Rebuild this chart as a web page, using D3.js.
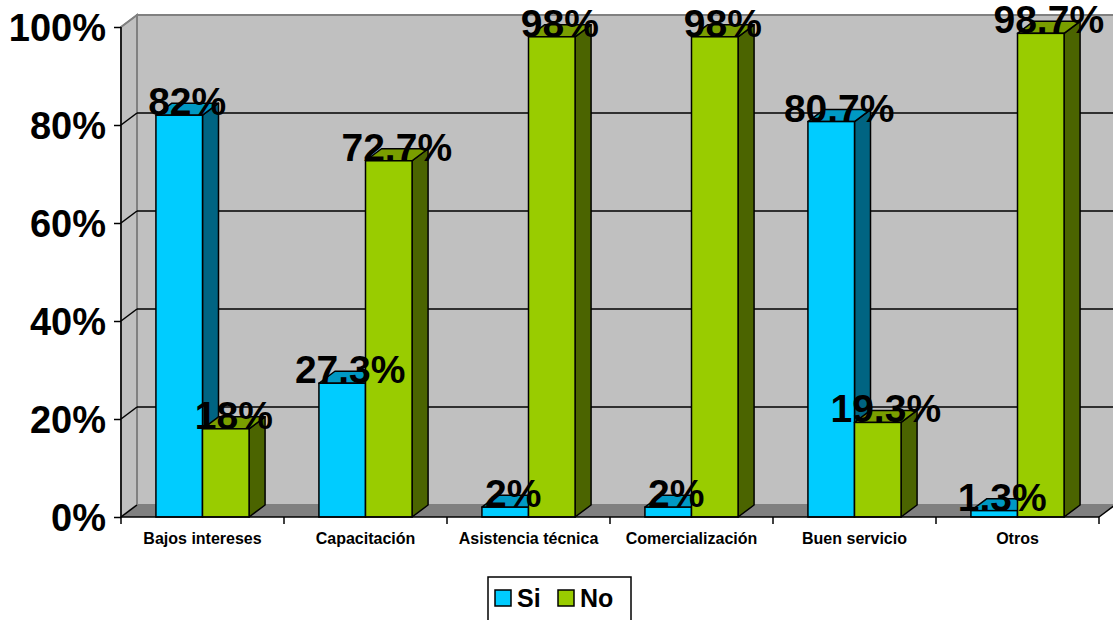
<!DOCTYPE html>
<html><head><meta charset="utf-8">
<script src="https://cdn.jsdelivr.net/npm/d3@7"></script>
<style>html,body{margin:0;padding:0;background:#fff;}svg{display:block;}</style>
</head><body>
<svg id="chart" width="1113" height="620"></svg>
<script>
const categories = ["Bajos intereses","Capacitación","Asistencia técnica","Comercialización","Buen servicio","Otros"];
const seriesNames = ["Si","No"];
const siValues = [82, 27.3, 2, 2, 80.7, 1.3];
const noValues = [18, 72.7, 98, 98, 19.3, 98.7];
const yTicks = [0, 20, 40, 60, 80, 100];

const colors = {
  Si: {front:"#00ccff", top:"#0099c4", side:"#006482"},
  No: {front:"#99cc00", top:"#7a9e00", side:"#4b6400"}
};
const DX = 16, DY = -12;
const svg = d3.select("#chart");
const font = "Arial, 'Liberation Sans', sans-serif";

const x = d3.scaleBand().domain(categories).range([121, 1099]).paddingInner(0).paddingOuter(0);
const y = d3.scaleLinear().domain([0, 100]).range([517, 27]);
const bw = x.bandwidth() / 3.5;
const sub = d3.scaleBand().domain(seriesNames).range([0.75*bw, 2.75*bw]);

const x0 = x.range()[0], x1 = x.range()[1];

// back wall
svg.append("rect").attr("x", x0+DX).attr("y", y(100)+DY).attr("width", x1-x0+20).attr("height", y(0)-y(100))
  .attr("fill","#c0c0c0").attr("stroke","#808080").attr("stroke-width",2);
// left side wall
svg.append("path").attr("d", `M${x0},${y(100)}L${x0+DX},${y(100)+DY}L${x0+DX},${y(0)+DY}L${x0},${y(0)}Z`)
  .attr("fill","#c0c0c0").attr("stroke","#808080").attr("stroke-width",2);
// floor
svg.append("path").attr("d", `M${x0},${y(0)}L${x0+DX},${y(0)+DY}L${x1+DX},${y(0)+DY}L${x1},${y(0)}Z`)
  .attr("fill","#808080").attr("stroke","none");

// gridlines
yTicks.forEach(t => {
  const yy = y(t);
  if (t > 0 && t < 100) {
    svg.append("line").attr("x1", x0+DX).attr("x2", x1+DX+20).attr("y1", yy+DY).attr("y2", yy+DY)
      .attr("stroke","#000").attr("stroke-width",1.5);
  }
  svg.append("line").attr("x1", x0).attr("y1", yy).attr("x2", x0+DX).attr("y2", yy+DY)
    .attr("stroke", t === 100 ? "#808080" : "#000").attr("stroke-width",1.5);
});
// floor right edge
svg.append("line").attr("x1", x1).attr("y1", y(0)).attr("x2", x1+DX).attr("y2", y(0)+DY)
  .attr("stroke","#000").attr("stroke-width",1.5);

// bars
const data = categories.map((c,i) => ({cat:c, vals:[{s:"Si", v:siValues[i]},{s:"No", v:noValues[i]}]}));
const g = svg.append("g");
data.forEach(d => {
  d.vals.forEach(b => {
    const bx = x(d.cat) + sub(b.s), w = sub.bandwidth();
    const yt = y(b.v), yb = y(0);
    const c = colors[b.s];
    g.append("path").attr("d", `M${bx+w},${yt}L${bx+w+DX},${yt+DY}L${bx+w+DX},${yb+DY}L${bx+w},${yb}Z`)
      .attr("fill", c.side).attr("stroke","#000").attr("stroke-width",1.5).attr("stroke-linejoin","round");
    g.append("path").attr("d", `M${bx},${yt}L${bx+DX},${yt+DY}L${bx+w+DX},${yt+DY}L${bx+w},${yt}Z`)
      .attr("fill", c.top).attr("stroke","#000").attr("stroke-width",1.5).attr("stroke-linejoin","round");
    g.append("rect").attr("x", bx).attr("y", yt).attr("width", w).attr("height", yb-yt)
      .attr("fill", c.front).attr("stroke","#000").attr("stroke-width",1.5);
  });
});

// axes lines
svg.append("line").attr("x1", x0).attr("x2", x0).attr("y1", y(100)).attr("y2", y(0)).attr("stroke","#000").attr("stroke-width",1.5);
svg.append("line").attr("x1", x0).attr("x2", x1).attr("y1", y(0)).attr("y2", y(0)).attr("stroke","#000").attr("stroke-width",1.5);

// y axis ticks & labels
const yAxis = d3.axisLeft(y).tickValues(yTicks).tickSize(7).tickFormat(d => d + "%");
const ya = svg.append("g").attr("transform", `translate(${x0},0)`).call(yAxis);
ya.select(".domain").remove();
ya.selectAll(".tick line").attr("stroke","#000").attr("stroke-width",1.5);
ya.selectAll(".tick text").attr("x", -15).attr("dy","0.36em").attr("fill","#000")
  .style("font-family", font).style("font-size","38px").style("font-weight","bold");

// x axis ticks (category boundaries)
const bounds = categories.map(c => x(c)).concat([x1]);
bounds.forEach(bx => {
  svg.append("line").attr("x1", bx).attr("x2", bx).attr("y1", y(0)).attr("y2", y(0)+7).attr("stroke","#000").attr("stroke-width",1.5);
});
svg.selectAll(".catlabel").data(categories).enter().append("text")
  .attr("x", d => x(d) + x.bandwidth()/2).attr("y", 544).attr("text-anchor","middle")
  .style("font-family", font).style("font-size","16px").style("font-weight","bold").text(d => d);

// data labels
data.forEach(d => {
  d.vals.forEach(b => {
    const bx = x(d.cat) + sub(b.s), w = sub.bandwidth();
    svg.append("text").attr("x", bx + w/2 + DX/2).attr("y", y(b.v)).attr("text-anchor","middle")
      .style("font-family", font).style("font-size","39px").style("font-weight","bold").attr("fill","#000")
      .text(b.v + "%");
  });
});

// legend
const lg = svg.append("g");
lg.append("rect").attr("x", 488).attr("y", 577).attr("width", 143).attr("height", 60)
  .attr("fill","#fff").attr("stroke","#000").attr("stroke-width",1.5);
const legX = {Si: 495, No: 558};
seriesNames.forEach(s => {
  lg.append("rect").attr("x", legX[s]).attr("y", 590).attr("width", 16).attr("height", 16)
    .attr("fill", colors[s].front).attr("stroke","#000").attr("stroke-width",1.5);
  lg.append("text").attr("x", legX[s] + 22).attr("y", 607)
    .style("font-family", font).style("font-size","25px").style("font-weight","bold").text(s);
});
</script>
</body></html>
